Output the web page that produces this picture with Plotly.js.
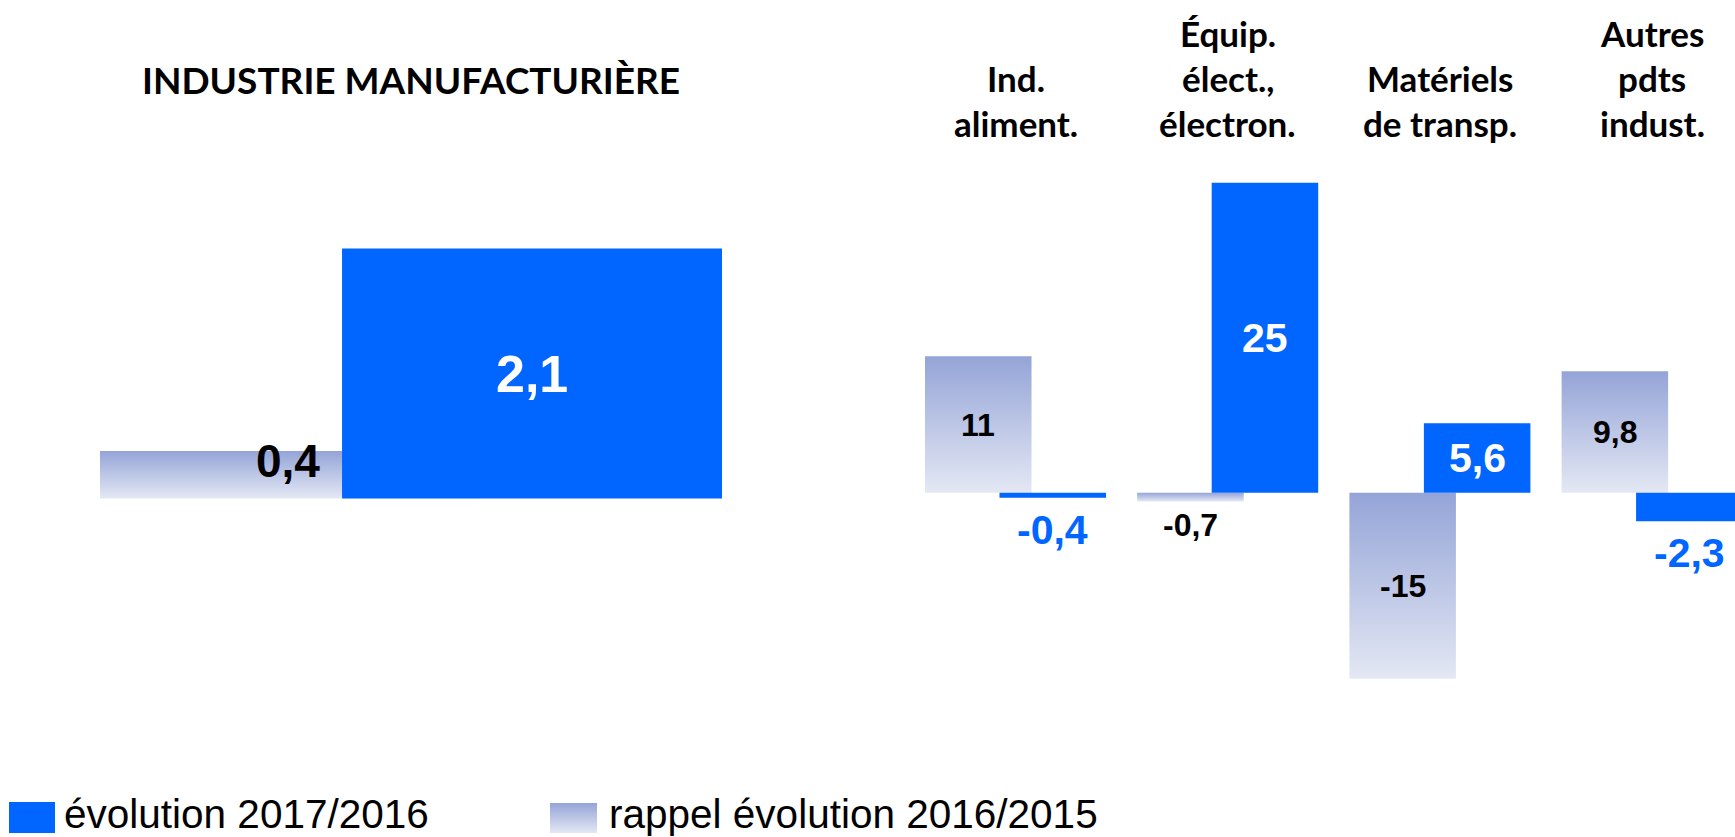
<!DOCTYPE html>
<html>
<head>
<meta charset="utf-8">
<script src="https://cdn.plot.ly/plotly-3.0.1.min.js"></script>
<style>
  html, body { margin: 0; padding: 0; background: #ffffff; }
  #chart { width: 1735px; height: 837px; }
</style>
</head>
<body>
<div id="chart"></div>
<script>
// ---------------- DATA ----------------
const leftCategories = ['INDUSTRIE MANUFACTURIÈRE'];
const leftEvol2017 = [2.1];
const leftEvol2016 = [0.4];

const rightCategories = ['Ind.<br>aliment.', 'Équip.<br>élect.,<br>électron.', 'Matériels<br>de transp.', 'Autres<br>pdts<br>indust.'];
const evol2017 = [-0.4, 25, 5.6, -2.3];
const evol2016 = [11, -0.7, -15, 9.8];

const seriesNames = ['évolution 2017/2016', 'rappel évolution 2016/2015'];

// ---------------- STYLE / GEOMETRY ----------------
const W = 1735, H = 837;
const BLUE = '#0066FF';
const GREY_KEY = 'rgb(149, 165, 216)';   // replaced by a vertical gradient after render
const GRAD_TOP = '#94A4D7', GRAD_BOTTOM = '#E4E8F4';
const LABEL_FONT = 'Liberation Sans, Arial, sans-serif';
const CAT_FONT = 'Lato, Calibri, sans-serif';

// left panel geometry (pixels)
const L = { dom: [0, 800], center: 411, k: 777.5, base: 498.5, ky: 119,
            w: 0.4887, offGrey: -0.4, offBlue: -0.0887 };
// right panel geometry (pixels)
const R = { dom: [800, W], center: 1015.5, k: 212.2, base: 492.7, ky: 12.4,
            w: 0.502, offGrey: -0.4265, offBlue: -0.0755 };

function xRange(p) { return [(p.dom[0] - p.center) / p.k, (p.dom[1] - p.center) / p.k]; }
function yRange(p) { return [-(H - p.base) / p.ky, p.base / p.ky]; }
const fmt = v => String(v).replace('.', ',');
const px2y = py => 1 - py / H;
const px2x = px => px / W;

const hiddenAxis = { showgrid: false, zeroline: false, showticklabels: false, ticks: '', showline: false, fixedrange: true };

const traces = [
  { type: 'bar', x: leftCategories, y: leftEvol2016, xaxis: 'x', yaxis: 'y', name: seriesNames[1],
    width: L.w, offset: L.offGrey, marker: { color: GREY_KEY, line: { width: 0 } }, showlegend: false, hoverinfo: 'skip' },
  { type: 'bar', x: leftCategories, y: leftEvol2017, xaxis: 'x', yaxis: 'y', name: seriesNames[0],
    width: L.w, offset: L.offBlue, marker: { color: BLUE, line: { width: 0 } }, showlegend: false, hoverinfo: 'skip' },
  { type: 'bar', x: rightCategories, y: evol2016, xaxis: 'x2', yaxis: 'y2', name: seriesNames[1],
    width: R.w, offset: R.offGrey, marker: { color: GREY_KEY, line: { width: 0 } }, showlegend: false, hoverinfo: 'skip' },
  { type: 'bar', x: rightCategories, y: evol2017, xaxis: 'x2', yaxis: 'y2', name: seriesNames[0],
    width: R.w, offset: R.offBlue, marker: { color: BLUE, line: { width: 0 } }, showlegend: false, hoverinfo: 'skip' }
];

const annotations = [];

function valueLabel(xref, yref, xpos, v, opts) {
  annotations.push(Object.assign({
    xref: xref, yref: yref, x: xpos, y: v, text: fmt(v), showarrow: false,
    xanchor: 'center', yanchor: 'middle'
  }, opts));
}

// left panel labels
leftCategories.forEach((c, i) => {
  // blue bar: centered inside
  valueLabel('x', 'y', i + L.offBlue + L.w / 2, leftEvol2017[i],
    { y: leftEvol2017[i] / 2, font: { family: LABEL_FONT, size: 52, weight: 700, color: '#ffffff' } });
  // grey bar: inside end, against the blue bar
  valueLabel('x', 'y', i + L.offBlue, leftEvol2016[i],
    { xanchor: 'right', xshift: -20, yshift: -10, font: { family: LABEL_FONT, size: 46, weight: 700, color: '#000000' } });
  // category title
  annotations.push({ xref: 'x', yref: 'paper', x: i, y: px2y(80), text: c, showarrow: false,
    xanchor: 'center', yanchor: 'middle', font: { family: CAT_FONT, size: 37, weight: 700, color: '#000000' } });
});

// right panel labels
const insideMin = 40; // px
rightCategories.forEach((c, i) => {
  const vg = evol2016[i], vb = evol2017[i];
  // grey
  const gx = i + R.offGrey + R.w / 2;
  if (Math.abs(vg) * R.ky >= insideMin) {
    valueLabel('x2', 'y2', gx, vg, { y: vg / 2, font: { family: LABEL_FONT, size: 32, weight: 700, color: '#000000' } });
  } else {
    valueLabel('x2', 'y2', gx, vg, { yshift: (vg < 0 ? -1 : 1) * 0.75 * 32, font: { family: LABEL_FONT, size: 32, weight: 700, color: '#000000' } });
  }
  // blue
  const bx = i + R.offBlue + R.w / 2;
  if (Math.abs(vb) * R.ky >= insideMin) {
    valueLabel('x2', 'y2', bx, vb, { y: vb / 2, font: { family: LABEL_FONT, size: 41, weight: 700, color: '#ffffff' } });
  } else {
    valueLabel('x2', 'y2', bx, vb, { yshift: (vb < 0 ? -1 : 1) * 0.78 * 41, font: { family: LABEL_FONT, size: 41, weight: 700, color: BLUE } });
  }
  // category header, bottom-aligned lines
  const lines = c.split('<br>');
  lines.forEach((ln, j) => {
    const py = 123.5 - (lines.length - 1 - j) * 45.5;
    annotations.push({ xref: 'x2', yref: 'paper', x: i, y: px2y(py), text: ln, showarrow: false,
      xanchor: 'center', yanchor: 'middle', font: { family: CAT_FONT, size: 35, weight: 700, color: '#000000' } });
  });
});

// legend (custom, large swatches)
const legendItems = [
  { name: seriesNames[0], color: BLUE, sw: [9, 55, 802, 833], tx: 63 },
  { name: seriesNames[1], color: GREY_KEY, sw: [550, 597, 803, 833], tx: 608 }
];
const shapes = [];
legendItems.forEach(it => {
  shapes.push({ type: 'rect', xref: 'paper', yref: 'paper',
    x0: px2x(it.sw[0]), x1: px2x(it.sw[1]), y0: px2y(it.sw[3]), y1: px2y(it.sw[2]),
    fillcolor: it.color, line: { width: 0 } });
  annotations.push({ xref: 'paper', yref: 'paper', x: px2x(it.tx), y: px2y(814), text: it.name, showarrow: false,
    xanchor: 'left', yanchor: 'middle', borderpad: 0,
    font: { family: LABEL_FONT, size: 40.5, color: '#000000' } });
});

const layout = {
  width: W, height: H,
  margin: { l: 0, r: 0, t: 0, b: 0, pad: 0 },
  paper_bgcolor: '#ffffff', plot_bgcolor: 'rgba(0,0,0,0)',
  barmode: 'overlay',
  showlegend: false,
  xaxis: Object.assign({}, hiddenAxis, { type: 'category', domain: [L.dom[0] / W, L.dom[1] / W], range: xRange(L), anchor: 'y' }),
  yaxis: Object.assign({}, hiddenAxis, { domain: [0, 1], range: yRange(L), anchor: 'x' }),
  xaxis2: Object.assign({}, hiddenAxis, { type: 'category', domain: [R.dom[0] / W, R.dom[1] / W], range: xRange(R), anchor: 'y2' }),
  yaxis2: Object.assign({}, hiddenAxis, { domain: [0, 1], range: yRange(R), anchor: 'x2' }),
  annotations: annotations,
  shapes: shapes
};

Plotly.newPlot('chart', traces, layout, { staticPlot: true, displayModeBar: false }).then(gd => {
  const svg = gd.querySelector('svg.main-svg');
  const NS = 'http://www.w3.org/2000/svg';
  let defs = svg.querySelector('defs');
  if (!defs) { defs = document.createElementNS(NS, 'defs'); svg.insertBefore(defs, svg.firstChild); }
  const grad = document.createElementNS(NS, 'linearGradient');
  grad.setAttribute('id', 'greyGrad');
  grad.setAttribute('x1', '0'); grad.setAttribute('y1', '0');
  grad.setAttribute('x2', '0'); grad.setAttribute('y2', '1');
  [[0, GRAD_TOP], [1, GRAD_BOTTOM]].forEach(s => {
    const st = document.createElementNS(NS, 'stop');
    st.setAttribute('offset', s[0]); st.setAttribute('stop-color', s[1]);
    grad.appendChild(st);
  });
  defs.appendChild(grad);
  gd.querySelectorAll('path').forEach(p => {
    if ((p.style.fill || '').replace(/\s/g, '') === GREY_KEY.replace(/\s/g, '')) {
      p.style.fill = 'url(#greyGrad)';
    }
  });
});
</script>
</body>
</html>
